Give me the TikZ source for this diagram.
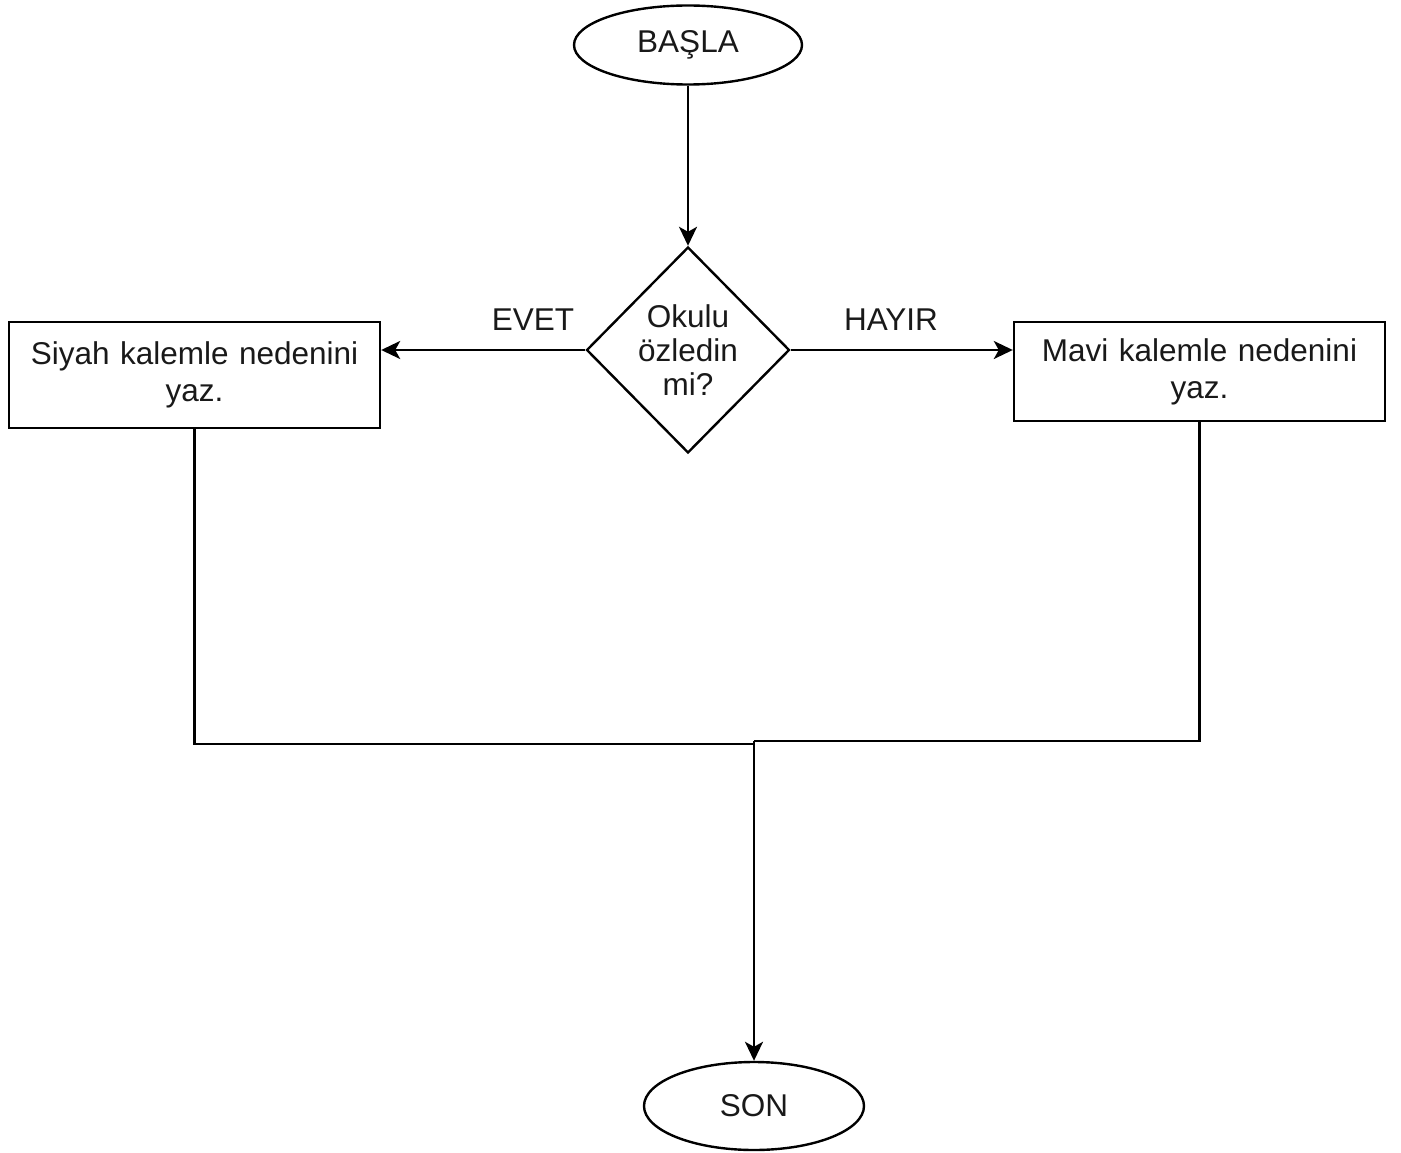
\documentclass[tikz,border=0pt]{standalone}
\usepackage{fontspec}
\setmainfont{Liberation Sans}
\usetikzlibrary{shapes.geometric,arrows.meta}
\begin{document}
\begin{tikzpicture}[x=1pt,y=-1pt,
  base/.style={draw=black,line width=2.4pt,font=\fontsize{31.5}{37}\selectfont,text=black!90},
  term/.style={base,ellipse,inner sep=0pt},
  decision/.style={base,diamond,inner sep=-3pt,align=center,minimum width=203pt,minimum height=206pt},
  proc/.style={base,rectangle,inner sep=0pt,align=center,text width=360pt,minimum width=371pt},
  lbl/.style={font=\fontsize{31.5}{37}\selectfont,text=black!90,inner sep=0pt},
  conn/.style={line width=2.4pt,-{Stealth[length=19pt,width=18pt,inset=5pt]}},
  plain/.style={line width=2.4pt}]
\useasboundingbox (0,0) rectangle (1401,1153);
\node[term,minimum width=228pt,minimum height=79pt] (start) at (688,45) {BAŞLA};
\node[decision] (q) at (688,350) {Okulu\\[-3pt]özledin\\[-3pt]mi?};
\node[proc,minimum height=106pt] (L) at (194.5,375) {Siyah kalemle nedenini\\yaz.};
\node[proc,minimum height=99pt] (R) at (1199.5,371.5) {Mavi kalemle nedenini\\yaz.};
\node[term,minimum width=220pt,minimum height=88pt] (son) at (754,1106) {SON};
\node[lbl] (evet) at (533,320) {EVET};
\node[lbl] (hayir) at (891,320) {HAYIR};
\coordinate (j1) at (754,744);
\coordinate (j2) at (754,741);
\draw[conn] (start.south) -- (q.north);
\draw[conn] (q.west) -- (L.east |- q.west);
\draw[conn] (q.east) -- (R.west |- q.east);
\draw[plain] (L.south) |- (j1);
\draw[plain] (R.south) |- (j2);
\draw[conn] (j2) -- (son.north);
\end{tikzpicture}
\end{document}
